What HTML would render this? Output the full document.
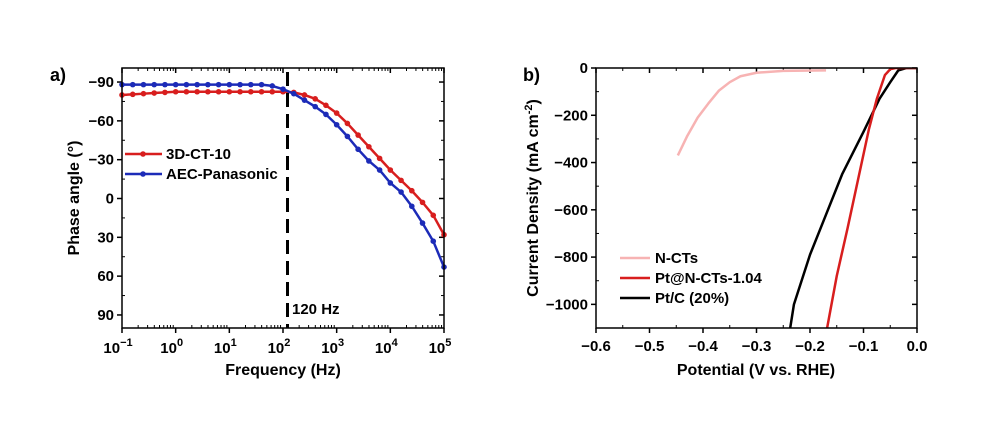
<!DOCTYPE html>
<html><head><meta charset="utf-8"><style>
body{margin:0;background:#fff;}
svg text{font-family:"Liberation Sans",Arial,sans-serif;font-weight:bold;fill:#000;}
</style></head><body>
<svg id="c" width="1000" height="420" viewBox="0 0 1000 420"></svg>
<script>
// ---- Panel a data ----
const freqLog = [-1,-0.8,-0.6,-0.4,-0.2,0,0.2,0.4,0.6,0.8,1,1.2,1.4,1.6,1.8,2,2.2,2.4,2.6,2.8,3,3.2,3.4,3.6,3.8,4,4.2,4.4,4.6,4.8,5];
const phaseRed = [-80,-80.5,-81,-81.5,-82,-82.5,-82.5,-82.5,-82.5,-82.5,-82.5,-82.5,-82.5,-82.5,-82.5,-82.5,-82,-80,-77,-72,-66,-58,-49,-40,-31,-22,-14,-6,3,13,28];
const phaseBlue = [-88,-88,-88,-88,-88,-88,-88,-88,-88,-88,-88,-88,-88,-88,-87,-84.5,-81,-76,-71,-65,-57,-48,-38,-29,-22,-12,-5,6,19,33,53];
const seriesNamesA = ["3D-CT-10","AEC-Panasonic"];
const xTicksA = [-1,0,1,2,3,4,5];
const yTicksA = [-90,-60,-30,0,30,60,90];
// ---- Panel b data ----
const ncX = [-0.447,-0.43,-0.41,-0.39,-0.37,-0.35,-0.33,-0.30,-0.25,-0.17];
const ncY = [-370,-290,-210,-150,-95,-60,-35,-20,-12,-10];
const ptX = [-0.168,-0.15,-0.13,-0.11,-0.09,-0.075,-0.06,-0.05,-0.04,0];
const ptY = [-1100,-880,-680,-470,-260,-130,-30,-5,0,0];
const pcX = [-0.237,-0.23,-0.2,-0.17,-0.14,-0.1,-0.07,-0.05,-0.035,-0.02,0];
const pcY = [-1100,-1000,-790,-620,-450,-270,-130,-60,-10,0,0];
const xTicksB = [-0.6,-0.5,-0.4,-0.3,-0.2,-0.1,0.0];
const yTicksB = [0,-200,-400,-600,-800,-1000];
const seriesNamesB = ["N-CTs","Pt@N-CTs-1.04","Pt/C (20%)"];

const svg=document.getElementById('c');
const NS='http://www.w3.org/2000/svg';
function mk(tag,attrs,parent){const e=document.createElementNS(NS,tag);for(const k in attrs)e.setAttribute(k,attrs[k]);(parent||svg).appendChild(e);return e;}

const aL=122,aR=444,aT=68,aB=328;
const xa=v=>aL+(v+1)/6*(aR-aL);
const ya=v=>198.5+v*1.294;
const bL=596,bR=917,bT=68,bB=328;
const xb=v=>bL+(v+0.6)/0.6*(bR-bL);
const yb=v=>bT+(-v)/1100*(bB-bT);

// Panel a
const ga=mk('g',{});


let t=mk('text',{x:50,y:81,'font-size':18},ga);t.textContent='a)';

xTicksA.forEach(v=>{
  const x=xa(v);
  mk('line',{x1:x,y1:aB,x2:x,y2:aB+5,stroke:'#000','stroke-width':1.5},ga);
  mk('line',{x1:x,y1:aT,x2:x,y2:aT+5,stroke:'#000','stroke-width':1.5},ga);
  if(v<5){for(let m=2;m<10;m++){const xm=xa(v+Math.log10(m));
    mk('line',{x1:xm,y1:aB,x2:xm,y2:aB-3,stroke:'#000','stroke-width':1},ga);
    mk('line',{x1:xm,y1:aT,x2:xm,y2:aT+3,stroke:'#000','stroke-width':1},ga);}}
  const tx=mk('text',{x:x-4,y:aB+25,'font-size':15,'text-anchor':'middle'},ga);
  
  tx.innerHTML='10<tspan dy="-7" font-size="11">'+(v<0?'\u2212'+(-v):v)+'</tspan>';
});
yTicksA.forEach(v=>{
  const y=ya(v);
  mk('line',{x1:aL-5,y1:y,x2:aL,y2:y,stroke:'#000','stroke-width':1.5},ga);
  mk('line',{x1:aR-5,y1:y,x2:aR,y2:y,stroke:'#000','stroke-width':1.5},ga);
  if(v<90){const ym=ya(v+15);
    mk('line',{x1:aL,y1:ym,x2:aL+3,y2:ym,stroke:'#000','stroke-width':1},ga);
    mk('line',{x1:aR-3,y1:ym,x2:aR,y2:ym,stroke:'#000','stroke-width':1},ga);}
  const tx=mk('text',{x:aL-8,y:y+5,'font-size':15,'text-anchor':'end'},ga);
  tx.textContent=(v<0?'\u2212'+(-v):v);
  
});
function plotA(vals,col,name){
  const pts=freqLog.map((f,i)=>xa(f)+','+ya(vals[i])).join(' ');
  const pl=mk('polyline',{points:pts,fill:'none',stroke:col,'stroke-width':2.5,'stroke-linejoin':'round'},ga);
  
  freqLog.forEach((f,i)=>{const c=mk('circle',{cx:xa(f),cy:ya(vals[i]),r:2.8,fill:col},ga);
    });
}
plotA(phaseRed,'#d81e1e','series-3d-ct-10');
plotA(phaseBlue,'#1c2bb8','series-aec-panasonic');
const dl=mk('line',{x1:287.5,y1:aT+4,x2:287.5,y2:aB,stroke:'#000','stroke-width':3,'stroke-dasharray':'14,7'},ga);

t=mk('text',{x:292,y:314,'font-size':15},ga);t.textContent='120 Hz';

mk('rect',{x:aL,y:aT,width:aR-aL,height:aB-aT,fill:'none',stroke:'#000','stroke-width':1.5},ga);
[['#d81e1e',154],['#1c2bb8',174]].forEach((s,i)=>{
  const g=mk('g',{},ga);
  mk('line',{x1:125,y1:s[1],x2:162,y2:s[1],stroke:s[0],'stroke-width':2.5},g);
  mk('circle',{cx:143,cy:s[1],r:2.8,fill:s[0]},g);
  const tt=mk('text',{x:166,y:s[1]+5,'font-size':15},g);tt.textContent=seriesNamesA[i];
});
t=mk('text',{x:283,y:375,'font-size':16,'text-anchor':'middle'},ga);t.textContent='Frequency (Hz)';

t=mk('text',{x:0,y:0,'font-size':16,'text-anchor':'middle',transform:'translate(79,198) rotate(-90)'},ga);t.textContent='Phase angle (°)';


// Panel b
const gb=mk('g',{});

t=mk('text',{x:523,y:81,'font-size':18},gb);t.textContent='b)';

xTicksB.forEach((v,i)=>{
  const x=xb(v);
  mk('line',{x1:x,y1:bB,x2:x,y2:bB+5,stroke:'#000','stroke-width':1.5},gb);
  mk('line',{x1:x,y1:bT,x2:x,y2:bT+5,stroke:'#000','stroke-width':1.5},gb);
  if(i<xTicksB.length-1){const xm=xb(v+0.05);
    mk('line',{x1:xm,y1:bB,x2:xm,y2:bB-3,stroke:'#000','stroke-width':1},gb);
    mk('line',{x1:xm,y1:bT,x2:xm,y2:bT+3,stroke:'#000','stroke-width':1},gb);}
  const tx=mk('text',{x:x,y:bB+23,'font-size':15,'text-anchor':'middle'},gb);
  tx.textContent=(v<0?'\u2212'+(-v).toFixed(1):'0.0');
  
});
yTicksB.forEach(v=>{
  const y=yb(v);
  mk('line',{x1:bL-5,y1:y,x2:bL,y2:y,stroke:'#000','stroke-width':1.5},gb);
  mk('line',{x1:bR-5,y1:y,x2:bR,y2:y,stroke:'#000','stroke-width':1.5},gb);
  const ym=yb(v-100);
  mk('line',{x1:bL,y1:ym,x2:bL+3,y2:ym,stroke:'#000','stroke-width':1},gb);
  mk('line',{x1:bR-3,y1:ym,x2:bR,y2:ym,stroke:'#000','stroke-width':1},gb);
  const tx=mk('text',{x:bL-8,y:y+5,'font-size':15,'text-anchor':'end'},gb);
  tx.textContent=(v<0?'\u2212'+(-v):v);
  
});
const cp=mk('clipPath',{id:'cb'},gb);mk('rect',{x:bL,y:bT,width:bR-bL,height:bB-bT},cp);
function plotB(xs,ys,col,name){
  const pl=mk('polyline',{points:xs.map((x,i)=>xb(x)+','+yb(ys[i])).join(' '),fill:'none',stroke:col,'stroke-width':2.5,'clip-path':'url(#cb)','stroke-linejoin':'round'},gb);
  
}
plotB(ncX,ncY,'#f7b3b3','series-n-cts');
plotB(pcX,pcY,'#000','series-pt-c');
plotB(ptX,ptY,'#d81e1e','series-pt-n-cts');
mk('rect',{x:bL,y:bT,width:bR-bL,height:bB-bT,fill:'none',stroke:'#000','stroke-width':1.5},gb);
[['#f7b3b3',258],['#d81e1e',278],['#000',298]].forEach((s,i)=>{
  const g=mk('g',{},gb);
  mk('line',{x1:620,y1:s[1],x2:650,y2:s[1],stroke:s[0],'stroke-width':2.5},g);
  const tt=mk('text',{x:655,y:s[1]+5,'font-size':15},g);tt.textContent=seriesNamesB[i];
});
t=mk('text',{x:756,y:375,'font-size':16,'text-anchor':'middle'},gb);t.textContent='Potential (V vs. RHE)';

t=mk('text',{x:0,y:0,'font-size':16,'text-anchor':'middle',transform:'translate(538,198) rotate(-90)'},gb);
t.innerHTML='Current Density (mA cm<tspan dy="-6" font-size="11">-2</tspan><tspan dy="6">)</tspan>';

</script>
</body></html>
